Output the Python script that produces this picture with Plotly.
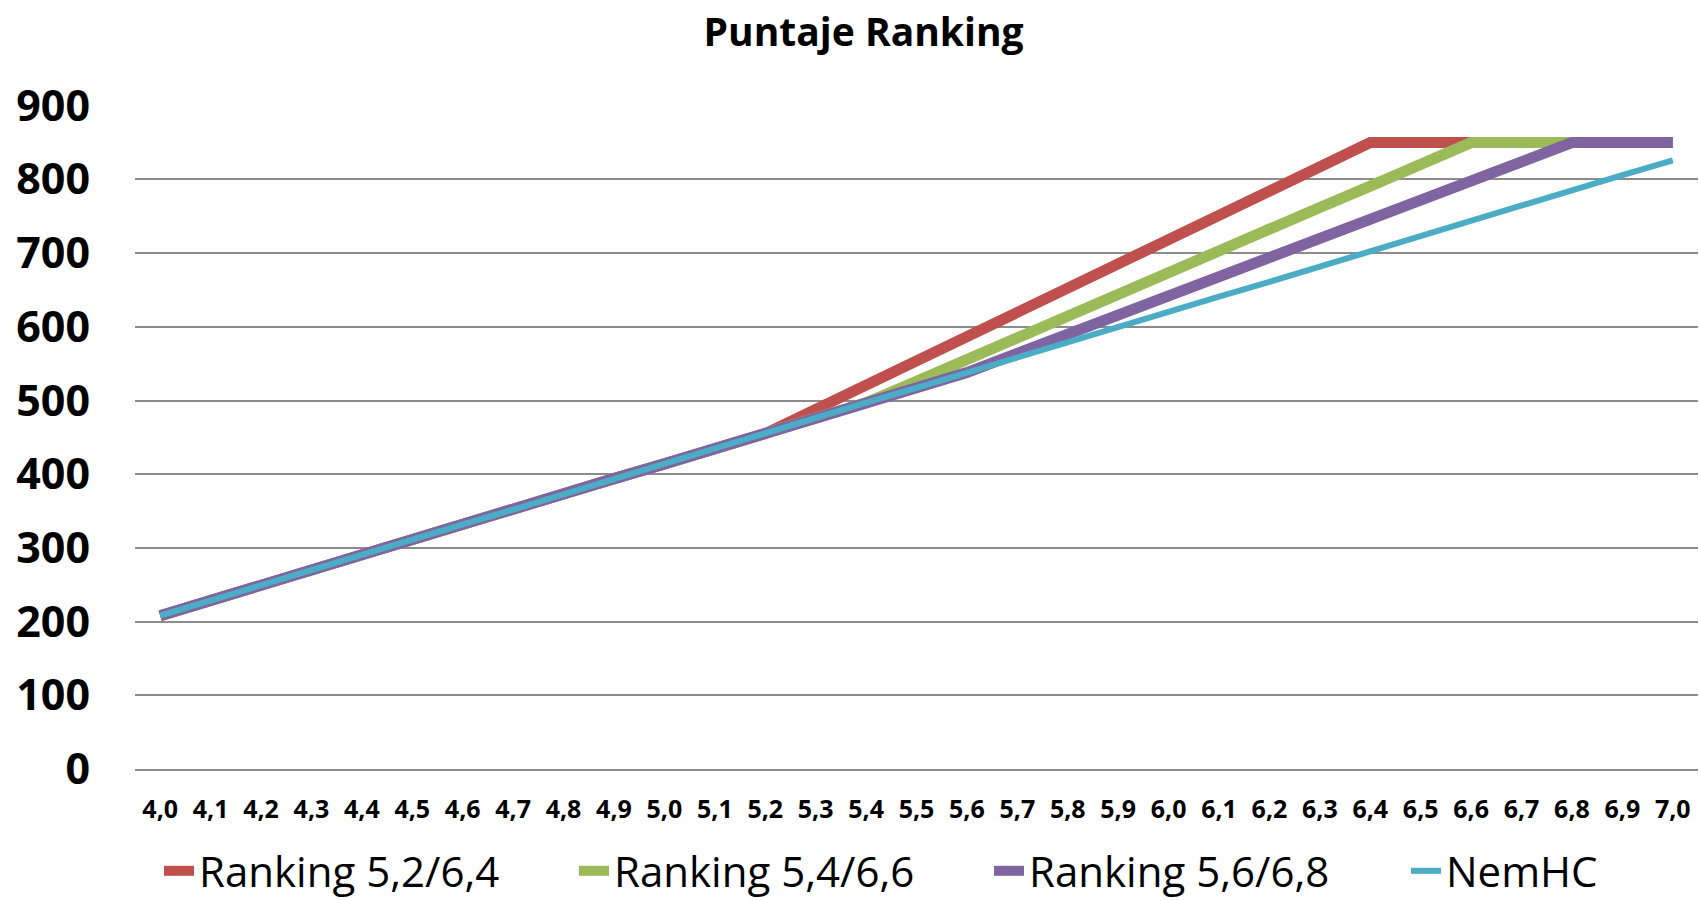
import plotly.graph_objects as go

categories = ["4,0", "4,1", "4,2", "4,3", "4,4", "4,5", "4,6", "4,7", "4,8", "4,9",
              "5,0", "5,1", "5,2", "5,3", "5,4", "5,5", "5,6", "5,7", "5,8", "5,9",
              "6,0", "6,1", "6,2", "6,3", "6,4", "6,5", "6,6", "6,7", "6,8", "6,9", "7,0"]

ranking_52_64 = [208, 229, 249, 270, 291, 311, 332, 352, 373, 394,
                 414, 435, 455, 488, 521, 554, 587, 620, 653, 685,
                 718, 751, 784, 817, 850, 850, 850, 850, 850, 850, 850]
ranking_54_66 = [208, 229, 249, 270, 291, 311, 332, 352, 373, 394,
                 414, 435, 455, 476, 497, 526, 556, 585, 615, 644,
                 674, 703, 732, 762, 791, 821, 850, 850, 850, 850, 850]
ranking_56_68 = [208, 229, 249, 270, 291, 311, 332, 352, 373, 394,
                 414, 435, 455, 476, 497, 517, 538, 564, 590, 616,
                 642, 668, 694, 720, 746, 772, 798, 824, 850, 850, 850]
nem_hc = [208, 229, 249, 270, 291, 311, 332, 352, 373, 394,
          414, 435, 455, 476, 497, 517, 538, 558, 579, 600,
          620, 641, 661, 682, 703, 723, 744, 764, 785, 806, 826]

series = [
    ("Ranking 5,2/6,4", ranking_52_64, "#C0504D", 11, "legend"),
    ("Ranking 5,4/6,6", ranking_54_66, "#9BBB59", 11, "legend"),
    ("Ranking 5,6/6,8", ranking_56_68, "#8064A2", 11, "legend"),
    ("NemHC", nem_hc, "#4BACC6", 6, "legend2"),
]

fig = go.Figure()
for name, vals, color, w, lg in series:
    fig.add_trace(go.Scatter(x=categories, y=vals, name=name, mode="lines",
                             line=dict(color=color, width=w), legend=lg))

FONT = "Open Sans"
LEG_Y = 1 - 871 / 901
fig.update_layout(
    width=1700, height=901,
    margin=dict(l=135, r=2, t=105, b=132, autoexpand=False),
    paper_bgcolor="white", plot_bgcolor="white",
    title=dict(text="<b>Puntaje Ranking</b>", x=0.508, xref="container", xanchor="center",
               y=1 - 32 / 901, yref="container", yanchor="middle",
               font=dict(family=FONT, size=39, color="black")),
    showlegend=True,
    legend=dict(orientation="h", xref="container", x=159 / 1700, xanchor="left",
                yref="container", y=LEG_Y, yanchor="middle",
                font=dict(family=FONT, size=42, color="black"),
                entrywidth=370, entrywidthmode="pixels", traceorder="normal",
                bgcolor="rgba(0,0,0,0)"),
    legend2=dict(orientation="h", xref="container", x=1406 / 1700, xanchor="left",
                 yref="container", y=LEG_Y, yanchor="middle",
                 font=dict(family=FONT, size=42, color="black"),
                 bgcolor="rgba(0,0,0,0)"),
)
fig.update_xaxes(type="category", range=[-0.5, 30.5], showgrid=False, automargin=False,
                 showline=True, linecolor="#8C8C8C", linewidth=2,
                 ticks="", ticklabelstandoff=17,
                 tickfont=dict(family=FONT, size=25, color="black", weight="bold"))
fig.update_yaxes(range=[0, 901], tickvals=[0, 100, 200, 300, 400, 500, 600, 700, 800, 900],
                 showgrid=True, gridcolor="#8C8C8C", gridwidth=1.5,
                 zeroline=False, showline=False, ticks="", ticklabelstandoff=44, automargin=False,
                 tickfont=dict(family=FONT, size=43, color="black", weight="bold"))

fig.write_html("out.html", config={"displayModeBar": False},
               post_script="document.body.style.margin='0px';document.body.style.padding='0px';")
